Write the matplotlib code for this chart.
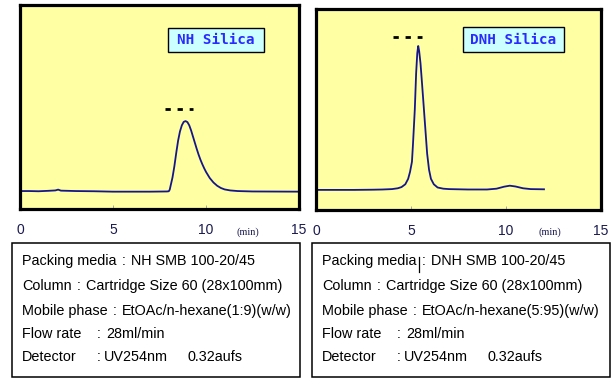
import matplotlib
matplotlib.use("Agg")
import matplotlib.pyplot as plt
from matplotlib.patches import Rectangle

plt.rcParams['lines.scale_dashes'] = False

# ---------------- data ----------------
nh_time = [0.0, 0.5, 1.0, 1.5, 1.9, 2.05, 2.2, 3.0, 4.0, 5.0, 6.0, 7.0, 7.9,
           8.0, 8.05, 8.1, 8.2, 8.3, 8.4, 8.5, 8.6, 8.7, 8.8, 8.9, 9.0, 9.1,
           9.2, 9.3, 9.4, 9.5, 9.6, 9.7, 9.8, 9.9, 10.0, 10.2, 10.4, 10.6,
           10.8, 11.0, 11.3, 11.7, 12.5, 15.0]
nh_signal = [8.8, 8.8, 8.7, 8.9, 9.1, 9.5, 9.0, 8.8, 8.7, 8.5, 8.5, 8.5, 8.6,
             8.7, 9.5, 11.5, 15.5, 21.0, 27.5, 33.5, 38.0, 41.0, 42.7, 43.1,
             42.6, 41.0, 38.5, 35.5, 32.5, 29.5, 26.7, 24.2, 22.0, 20.0, 18.2,
             15.2, 13.0, 11.4, 10.3, 9.6, 9.1, 8.8, 8.6, 8.5]

dnh_time = [0.0, 1.0, 2.0, 3.0, 3.5, 4.0, 4.3, 4.5, 4.7, 4.85, 4.95, 5.05,
            5.1, 5.2, 5.27, 5.33, 5.38, 5.43, 5.5, 5.58, 5.65, 5.75, 5.85,
            5.95, 6.05, 6.2, 6.4, 6.7, 7.0, 8.0, 9.0, 9.5, 9.9, 10.2, 10.5,
            10.9, 11.3, 12.0]
dnh_signal = [10.0, 10.0, 10.0, 10.1, 10.2, 10.4, 10.8, 11.4, 12.8, 15.5,
              19.0, 24.0, 32.0, 50.0, 68.0, 78.0, 81.6, 79.0, 73.0, 63.0,
              54.0, 41.0, 28.0, 20.0, 15.5, 12.8, 11.2, 10.6, 10.4, 10.2,
              10.2, 10.6, 11.6, 12.1, 11.7, 10.8, 10.4, 10.3]

x_ticks = [0, 5, 10, 15]
x_tick_labels = ["0", "5", "10", "15"]
panel_titles = ["NH Silica", "DNH Silica"]
fraction_ranges = [(7.8, 9.3), (4.05, 5.58)]
fraction_levels = [49, 86]

info_labels = ["Packing media", "Column", "Mobile phase", "Flow rate", "Detector"]
nh_values = ["NH SMB 100-20/45", "Cartridge Size 60 (28x100mm)",
             "EtOAc/n-hexane(1:9)(w/w)", "28ml/min", "UV254nm"]
dnh_values = ["DNH SMB 100-20/45", "Cartridge Size 60 (28x100mm)",
              "EtOAc/n-hexane(5:95)(w/w)", "28ml/min", "UV254nm"]
detector_range = "0.32aufs"

# ---------------- figure ----------------
W, H = 615, 381
fig = plt.figure(figsize=(W / 100, H / 100), dpi=100)
fig.patch.set_facecolor('white')
renderer = fig.canvas.get_renderer()

def fx(px):
    return px / W

def fy(py):
    return 1 - py / H

panels = [
    dict(box=(20, 5, 299, 209), t=nh_time, s=nh_signal, title=panel_titles[0],
         tbox=(168, 28, 264, 52), frac=fraction_ranges[0], lvl=fraction_levels[0],
         minx=248, values=nh_values, ibox=(12, 243, 300, 377), itx=22),
    dict(box=(316, 9, 601, 210), t=dnh_time, s=dnh_signal, title=panel_titles[1],
         tbox=(463, 27, 564, 52), frac=fraction_ranges[1], lvl=fraction_levels[1],
         minx=550, values=dnh_values, ibox=(312, 243, 610, 377), itx=322),
]

line_color = '#16168a'
for p in panels:
    x0, y0, x1, y1 = p['box']
    ax = fig.add_axes([fx(x0), fy(y1), fx(x1 - x0), (y1 - y0) / H])
    ax.set_facecolor('#ffffa3')
    ax.plot(p['t'], p['s'], color=line_color, lw=1.3, solid_joinstyle='round')
    ax.plot(list(p['frac']), [p['lvl'], p['lvl']], color='black', lw=2.0,
            linestyle=(0, (3.8, 4.9)), solid_capstyle='butt')
    ax.set_xlim(0, 15)
    ax.set_ylim(0, 100)
    ax.set_yticks([])
    ax.set_xticks(x_ticks)
    ax.set_xticklabels(x_tick_labels, fontfamily='Liberation Sans', fontsize=10,
                       color='#1a1a50')
    ax.tick_params(axis='x', direction='in', length=3, width=0.6,
                   color='#999999', pad=10)
    for sp in ax.spines.values():
        sp.set_linewidth(2.3)
        sp.set_color('black')

    # title box
    tx0, ty0, tx1, ty1 = p['tbox']
    fig.patches.append(Rectangle((fx(tx0), fy(ty1)), fx(tx1 - tx0), (ty1 - ty0) / H,
                                 transform=fig.transFigure, facecolor='#ccffff',
                                 edgecolor='black', lw=1.0, zorder=5))
    fig.text(fx((tx0 + tx1) / 2), fy((ty0 + ty1) / 2), p['title'],
             ha='center', va='center', fontsize=10.3, fontweight='bold',
             family='DejaVu Sans Mono', color='#2a2aff', zorder=6)

    # (min) label
    fig.text(fx(p['minx']), fy(232), "(min)", ha='center', va='center',
             fontsize=7.5, family='Liberation Serif', color='#1a1a50')

    # info box
    bx0, by0, bx1, by1 = p['ibox']
    fig.patches.append(Rectangle((fx(bx0), fy(by1)), fx(bx1 - bx0), (by1 - by0) / H,
                                 transform=fig.transFigure, facecolor='white',
                                 edgecolor='black', lw=1.1))
    rows_y = [261, 286, 311, 334, 357]
    kw = dict(va='center', fontsize=10.4, family='Liberation Sans', color='black')
    off = p['itx'] - 22
    for i, yy in enumerate(rows_y):
        t = fig.text(fx(p['itx']), fy(yy), info_labels[i], ha='left', **kw)
        if i < 3:
            end = t.get_window_extent(renderer).x1
            colon_x = end + 7
            val_x = end + 14.5
        else:
            colon_x = 99 + off
            val_x = (106 if i == 3 else 104) + off
        fig.text(fx(colon_x), fy(yy), ":", ha='center', **kw)
        fig.text(fx(val_x), fy(yy), p['values'][i], ha='left', **kw)
    fig.text(fx(187 + off), fy(rows_y[4]), detector_range, ha='left', **kw)

# text cursor artifact in right box
fig.add_artist(plt.Line2D([fx(419), fx(419)], [fy(257), fy(272)],
                          transform=fig.transFigure, color='black', lw=0.9))

fig.savefig('out.png', dpi=100)
